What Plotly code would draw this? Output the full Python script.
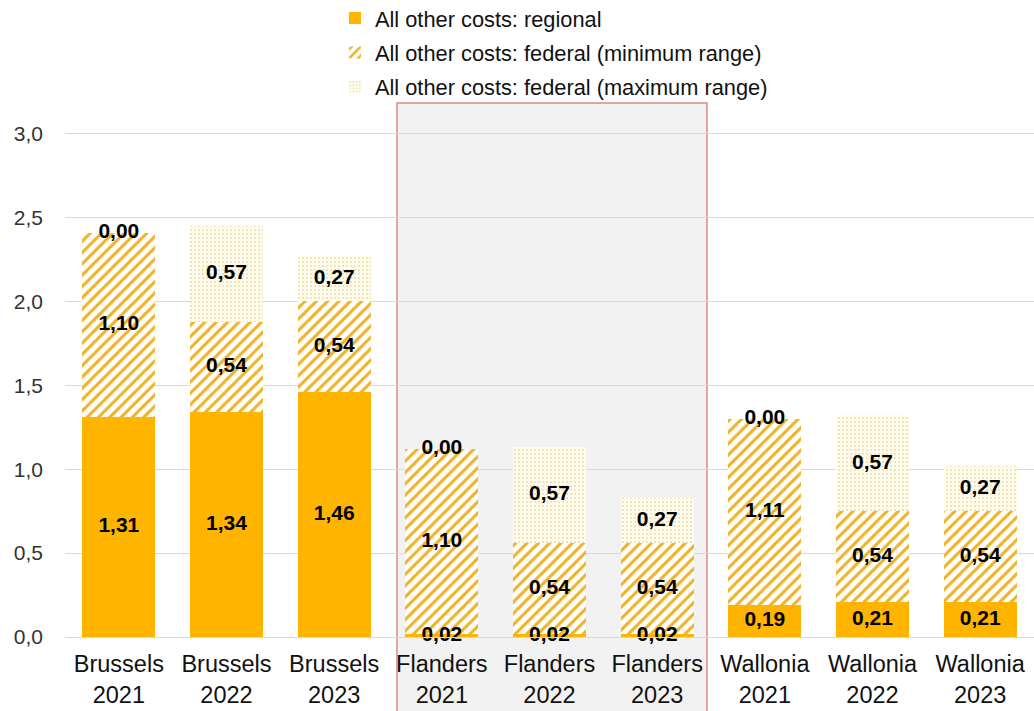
import plotly.graph_objects as go

# Categories (region + year) and the three stacked cost components
categories = ["Brussels<br>2021", "Brussels<br>2022", "Brussels<br>2023",
              "Flanders<br>2021", "Flanders<br>2022", "Flanders<br>2023",
              "Wallonia<br>2021", "Wallonia<br>2022", "Wallonia<br>2023"]
regional = [1.31, 1.34, 1.46, 0.02, 0.02, 0.02, 0.19, 0.21, 0.21]
federal_min = [1.10, 0.54, 0.54, 1.10, 0.54, 0.54, 1.11, 0.54, 0.54]
federal_max = [0.00, 0.57, 0.27, 0.00, 0.57, 0.27, 0.00, 0.57, 0.27]

series_names = ["All other costs: regional",
                "All other costs: federal (minimum range)",
                "All other costs: federal (maximum range)"]

FONT = "Liberation Sans, Arial, sans-serif"
ORANGE = "#FFB400"
HATCH = "#EFB224"

x_idx = list(range(len(categories)))


def fmt(v):
    return f"{v:.2f}".replace(".", ",")


fig = go.Figure()

fig.add_trace(go.Bar(
    x=x_idx, y=regional, name=series_names[0], legendgroup="g1",
    marker=dict(color=ORANGE, line=dict(width=0)),
    hoverinfo="skip",
))
fig.add_trace(go.Bar(
    x=x_idx, y=federal_min, name=series_names[1], legendgroup="g2",
    marker=dict(color="white", line=dict(width=0),
                pattern=dict(shape="/", fgcolor=HATCH, bgcolor="white",
                             fgopacity=1, size=8, solidity=0.38,
                             fillmode="replace")),
    hoverinfo="skip",
))
fig.add_trace(go.Bar(
    x=x_idx, y=federal_max, name=series_names[2], legendgroup="g3",
    marker=dict(color="#FFFBEA", line=dict(width=0),
                pattern=dict(shape=".", fgcolor="#EBDDAA", bgcolor="#FFFCEE",
                             fgopacity=1, size=4, solidity=0.2,
                             fillmode="replace")),
    hoverinfo="skip",
))

# Value labels centred on each stacked segment
lab_x, lab_y, lab_t = [], [], []
for i in x_idx:
    base = 0.0
    for vals in (regional, federal_min, federal_max):
        v = vals[i]
        lab_x.append(i)
        lab_y.append(base + v / 2)
        lab_t.append(fmt(v))
        base += v

fig.add_trace(go.Scatter(
    x=lab_x, y=lab_y, text=lab_t, mode="text",
    textposition="middle center",
    textfont=dict(family=FONT, size=21, color="black", weight="bold"),
    showlegend=False, hoverinfo="skip", cliponaxis=False,
))

# Highlight box around the Flanders group
fig.add_shape(
    type="rect", xref="paper", yref="paper",
    x0=0.3426, x1=0.6625, y0=-0.2, y1=0.9944,
    fillcolor="#F2F2F2", line=dict(color="#D98A86", width=1.5),
    layer="below",
)

fig.update_layout(
    width=1034, height=711,
    margin=dict(l=65, r=0, t=100, b=74, autoexpand=False),
    paper_bgcolor="white", plot_bgcolor="rgba(0,0,0,0)",
    barmode="stack", bargap=0.32,
    separators=",.",
    font=dict(family=FONT, color="#222222"),
    showlegend=True,
    legend=dict(
        x=0.2786, y=1.191, xanchor="left", yanchor="top",
        orientation="v", traceorder="grouped", tracegroupgap=3,
        font=dict(family=FONT, size=21.8, color="#111111"),
        bgcolor="rgba(0,0,0,0)", itemwidth=30,
    ),
    xaxis=dict(
        tickmode="array", tickvals=x_idx, ticktext=categories,
        range=[-0.5, 8.5], showgrid=False, zeroline=False,
        showline=True, linecolor="#D9D9D9", linewidth=1,
        tickfont=dict(family=FONT, size=23.5, color="#111111"),
        ticks="", ticklabelstandoff=6, automargin=False,
    ),
    yaxis=dict(
        range=[0, 3.2], dtick=0.5, tick0=0, tickformat=".1f",
        showgrid=True, gridcolor="#D9D9D9", gridwidth=1,
        zeroline=True, zerolinecolor="#D9D9D9", zerolinewidth=1,
        showline=False, ticks="", ticklabelstandoff=21, automargin=False,
        tickfont=dict(family=FONT, size=21, color="#333333"),
    ),
)

fig.write_html("out.html")
